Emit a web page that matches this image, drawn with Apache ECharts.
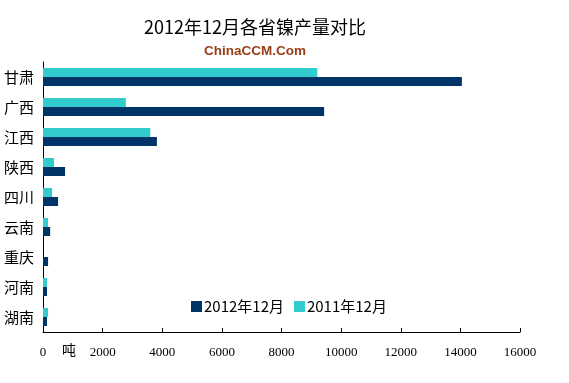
<!DOCTYPE html>
<html>
<head>
<meta charset="utf-8">
<script src="https://cdn.jsdelivr.net/npm/echarts@6/dist/echarts.min.js"></script>
<style>html,body{margin:0;padding:0;background:#fff}#c{width:569px;height:383px}</style>
</head>
<body>
<div id="c"></div>
<script>
var categories = ['甘肃','广西','江西','陕西','四川','云南','重庆','河南','湖南'];
var values2012 = [14050, 9430, 3820, 740, 505, 240, 170, 135, 135];
var values2011 = [9200, 2780, 3600, 370, 305, 170, 0, 135, 170];
var xTicks = [0, 2000, 4000, 6000, 8000, 10000, 12000, 14000, 16000];

var chart = echarts.init(document.getElementById('c'));
chart.setOption({
  animation: false,
  backgroundColor: '#fff',
  title: [
    {text: '2012年12月各省镍产量对比', left: 250, top: 13, textAlign: 'center',
     textStyle: {fontFamily: 'Noto Sans CJK SC', fontSize: 18, fontWeight: 'normal', color: '#000'}},
    {text: 'ChinaCCM.Com', left: 250, top: 39, textAlign: 'center',
     textStyle: {fontFamily: 'Liberation Sans', fontSize: 13.5, fontWeight: 'bold', color: '#9a3d16'}}
  ],
  legend: {
    left: 186, top: 294, itemWidth: 11, itemHeight: 11, itemGap: 10,
    icon: 'rect',
    textStyle: {fontFamily: 'Noto Sans CJK SC', fontSize: 15, color: '#000', padding: [0,0,0,-3]},
    data: ['2012年12月', '2011年12月']
  },
  grid: {left: 43, right: 49, top: 62, bottom: 51},
  xAxis: {
    type: 'value', min: xTicks[0], max: xTicks[xTicks.length-1], interval: 2000,
    splitLine: {show: false},
    axisLine: {show: true, lineStyle: {color: '#000'}},
    axisTick: {show: true, inside: true, length: 4, lineStyle: {color: '#000'}},
    axisLabel: {fontFamily: 'Liberation Serif', fontSize: 13, color: '#000', margin: 14,
                formatter: function (v) { return String(v); }}
  },
  yAxis: {
    type: 'category', data: categories, inverse: true,
    axisLine: {show: true, lineStyle: {color: '#000'}},
    axisTick: {show: false},
    axisLabel: {fontFamily: 'Noto Sans CJK SC', fontSize: 15, color: '#000', margin: 9}
  },
  graphic: [
    {type: 'text', left: 62, top: 343, style: {text: '吨', fontFamily: 'Noto Sans CJK SC', fontSize: 14, fill: '#000'}}
  ],
  series: [
    {name: '2011年12月', type: 'bar', data: values2011, barWidth: 9, barGap: '0%',
     itemStyle: {color: '#33CCCC'}},
    {name: '2012年12月', type: 'bar', data: values2012, barWidth: 9, barGap: '0%',
     itemStyle: {color: '#003366'}}
  ]
});
</script>
</body>
</html>
